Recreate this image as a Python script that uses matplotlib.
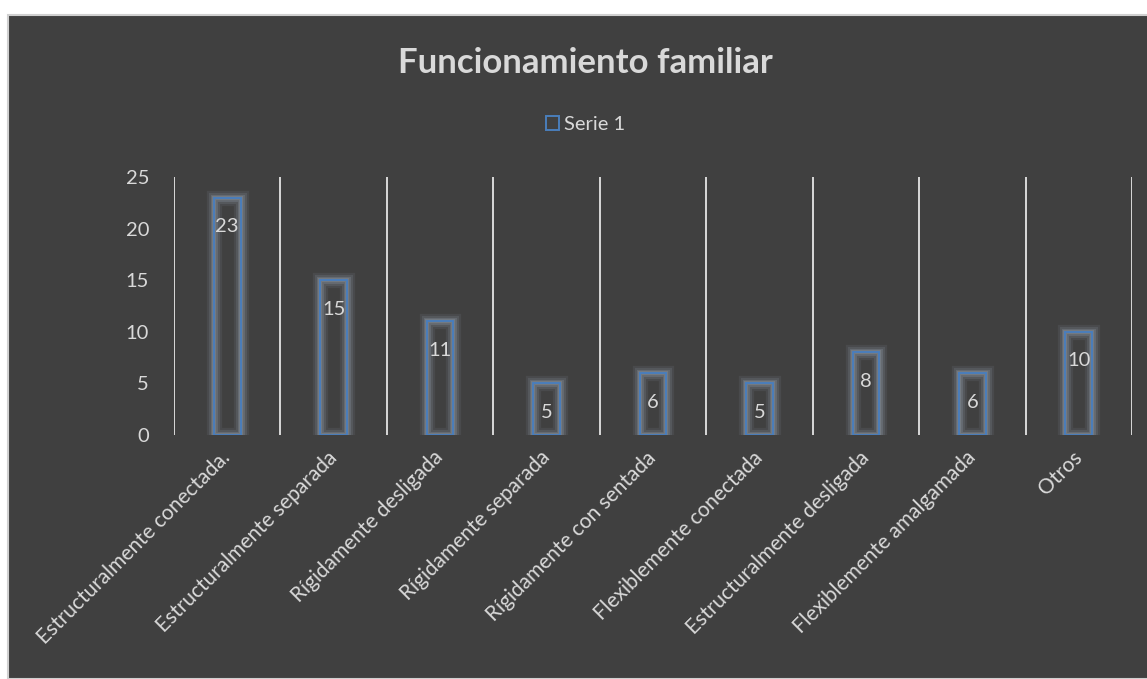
import matplotlib
matplotlib.use("Agg")
import matplotlib.pyplot as plt
from matplotlib.patches import Rectangle
import numpy as np

categories = ["Estructuralmente conectada.", "Estructuralmente separada",
              "Rígidamente desligada", "Rígidamente separada",
              "Rígidamente con sentada", "Flexiblemente conectada",
              "Estructuralmente desligada", "Flexiblemente amalgamada", "Otros"]
values = [23, 15, 11, 5, 6, 5, 8, 6, 10]
yticks = [0, 5, 10, 15, 20, 25]
series_name = "Serie 1"
title = "Funcionamiento familiar"

plt.rcParams['font.family'] = ['Lato', 'DejaVu Sans']
W, H = 1147, 679
fig = plt.figure(figsize=(W / 100, H / 100), dpi=100)
fig.patch.set_facecolor('white')

# chart area background
fig.patches.append(Rectangle((8 / W, 0), 1.0, 1 - 15 / H, transform=fig.transFigure,
                             facecolor='#404040', edgecolor='#d0d0d0', linewidth=1.5,
                             zorder=-10))

txt = '#d9d9d9'
fs = 14.5
ax = fig.add_axes([174 / W, 1 - 435 / H, (1132 - 174) / W, (435 - 177) / H])
ax.set_facecolor('none')
n = len(categories)
x = np.arange(n)
ax.set_xlim(-0.5, n - 0.5)
ax.set_ylim(0, 25)
for s in ax.spines.values():
    s.set_visible(False)

# vertical gridlines at category boundaries
for b in np.arange(n + 1) - 0.5:
    ax.axvline(b, color='#d9d9d9', linewidth=1.4, zorder=1)

bw = 0.25
# glow layers
for lw, a in [(11, 0.12), (8, 0.18), (5, 0.28), (3, 0.35)]:
    ax.bar(x, values, width=bw, facecolor='none', edgecolor='#9099a6', linewidth=lw,
           alpha=a, zorder=2)
ax.bar(x, values, width=bw, facecolor='none', edgecolor='#4a7ebb', linewidth=1.4, zorder=3)

for xi, v in zip(x, values):
    ax.annotate(str(v), (xi, v), xytext=(0, -21), textcoords='offset points',
                ha='center', va='center', color=txt, fontsize=fs, zorder=4)

ax.set_yticks(yticks)
ax.set_yticklabels([str(t) for t in yticks], color=txt, fontsize=fs)
ax.tick_params(axis='y', length=0, pad=18)
ax.set_xticks(x)
ax.set_xticklabels(categories, rotation=45, ha='right', va='center', rotation_mode='anchor',
                   color=txt, fontsize=15)
ax.tick_params(axis='x', length=0, pad=14)

fig.text(585 / W, 1 - 63 / H, title, ha='center', va='center', color=txt,
         fontsize=25, fontweight='bold')

# legend
fig.patches.append(Rectangle((546 / W, 1 - 130 / H), 13 / W, 14 / H, transform=fig.transFigure,
                             facecolor='none', edgecolor='#4a7ebb', linewidth=1.4))
fig.text(564 / W, 1 - 124 / H, series_name, ha='left', va='center', color=txt, fontsize=fs)

fig.savefig('out.png', dpi=100, facecolor='white')
